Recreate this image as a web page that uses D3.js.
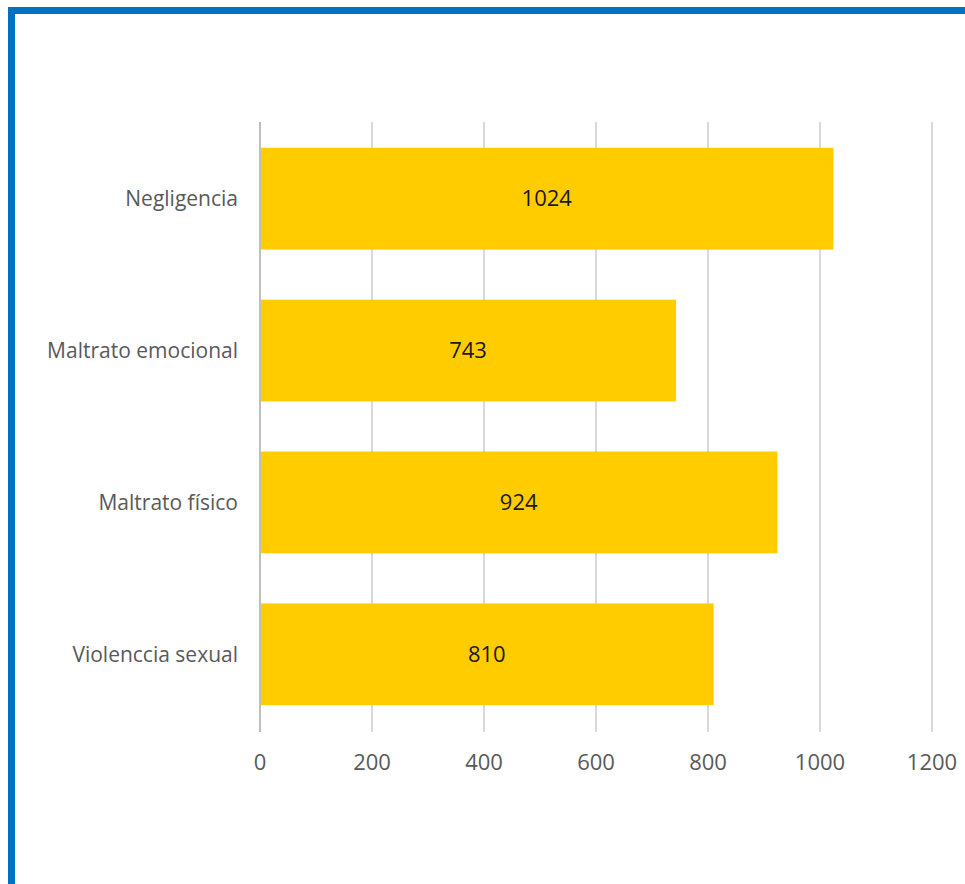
<!DOCTYPE html>
<html>
<head>
<meta charset="utf-8">
<script src="https://cdn.jsdelivr.net/npm/d3@7"></script>
<style>
  html, body { margin: 0; padding: 0; background: #fff; }
  svg { display: block; }
</style>
</head>
<body>
<svg id="chart"></svg>
<script>
// Chart data
const categories = ["Negligencia", "Maltrato emocional", "Maltrato físico", "Violenccia sexual"];
const values = [1024, 743, 924, 810];
const xTicks = [0, 200, 400, 600, 800, 1000, 1200];

const width = 965, height = 884;
const svg = d3.select("#chart").attr("width", width).attr("height", height);

// blue frame (left + top only)
svg.append("rect").attr("x", 8).attr("y", 7).attr("width", width - 8).attr("height", 7).attr("fill", "#0070C0");
svg.append("rect").attr("x", 8).attr("y", 7).attr("width", 7).attr("height", height - 7).attr("fill", "#0070C0");

// plot area
const plotLeft = 260, plotRight = 932, plotTop = 122, plotBottom = 731;

const x = d3.scaleLinear().domain([0, 1200]).range([plotLeft, plotRight]);
const y = d3.scaleBand().domain(categories).range([plotTop, plotBottom]).paddingInner(0.33).paddingOuter(0.17);

// gridlines
svg.append("g")
  .selectAll("line")
  .data(xTicks.filter(d => d > 0))
  .join("line")
  .attr("x1", d => x(d)).attr("x2", d => x(d))
  .attr("y1", plotTop).attr("y2", plotBottom + 1)
  .attr("stroke", "#d9d9d9")
  .attr("stroke-width", 2);

// bars
svg.append("g")
  .selectAll("rect")
  .data(values)
  .join("rect")
  .attr("x", x(0))
  .attr("y", (d, i) => y(categories[i]))
  .attr("width", d => x(d) - x(0))
  .attr("height", y.bandwidth())
  .attr("fill", "#FFCC00");

// zero axis line
svg.append("line")
  .attr("x1", x(0)).attr("x2", x(0))
  .attr("y1", plotTop).attr("y2", plotBottom + 1)
  .attr("stroke", "#bfbfbf")
  .attr("stroke-width", 2);

const font = "'Open Sans', sans-serif";

// value labels
svg.append("g")
  .selectAll("text")
  .data(values)
  .join("text")
  .attr("x", d => (x(0) + x(d)) / 2)
  .attr("y", (d, i) => y(categories[i]) + y.bandwidth() / 2)
  .attr("dy", "0.35em")
  .attr("text-anchor", "middle")
  .attr("font-family", font)
  .attr("font-size", 22)
  .attr("fill", "#1a1a1a")
  .text(d => d);

// category labels
svg.append("g")
  .selectAll("text")
  .data(categories)
  .join("text")
  .attr("x", 238)
  .attr("y", d => y(d) + y.bandwidth() / 2)
  .attr("dy", "0.35em")
  .attr("text-anchor", "end")
  .attr("font-family", font)
  .attr("font-size", 21)
  .attr("fill", "#595959")
  .text(d => d);

// x tick labels
svg.append("g")
  .selectAll("text")
  .data(xTicks)
  .join("text")
  .attr("x", d => x(d))
  .attr("y", 762)
  .attr("dy", "0.35em")
  .attr("text-anchor", "middle")
  .attr("font-family", font)
  .attr("font-size", 22)
  .attr("fill", "#595959")
  .text(d => d);
</script>
</body>
</html>
